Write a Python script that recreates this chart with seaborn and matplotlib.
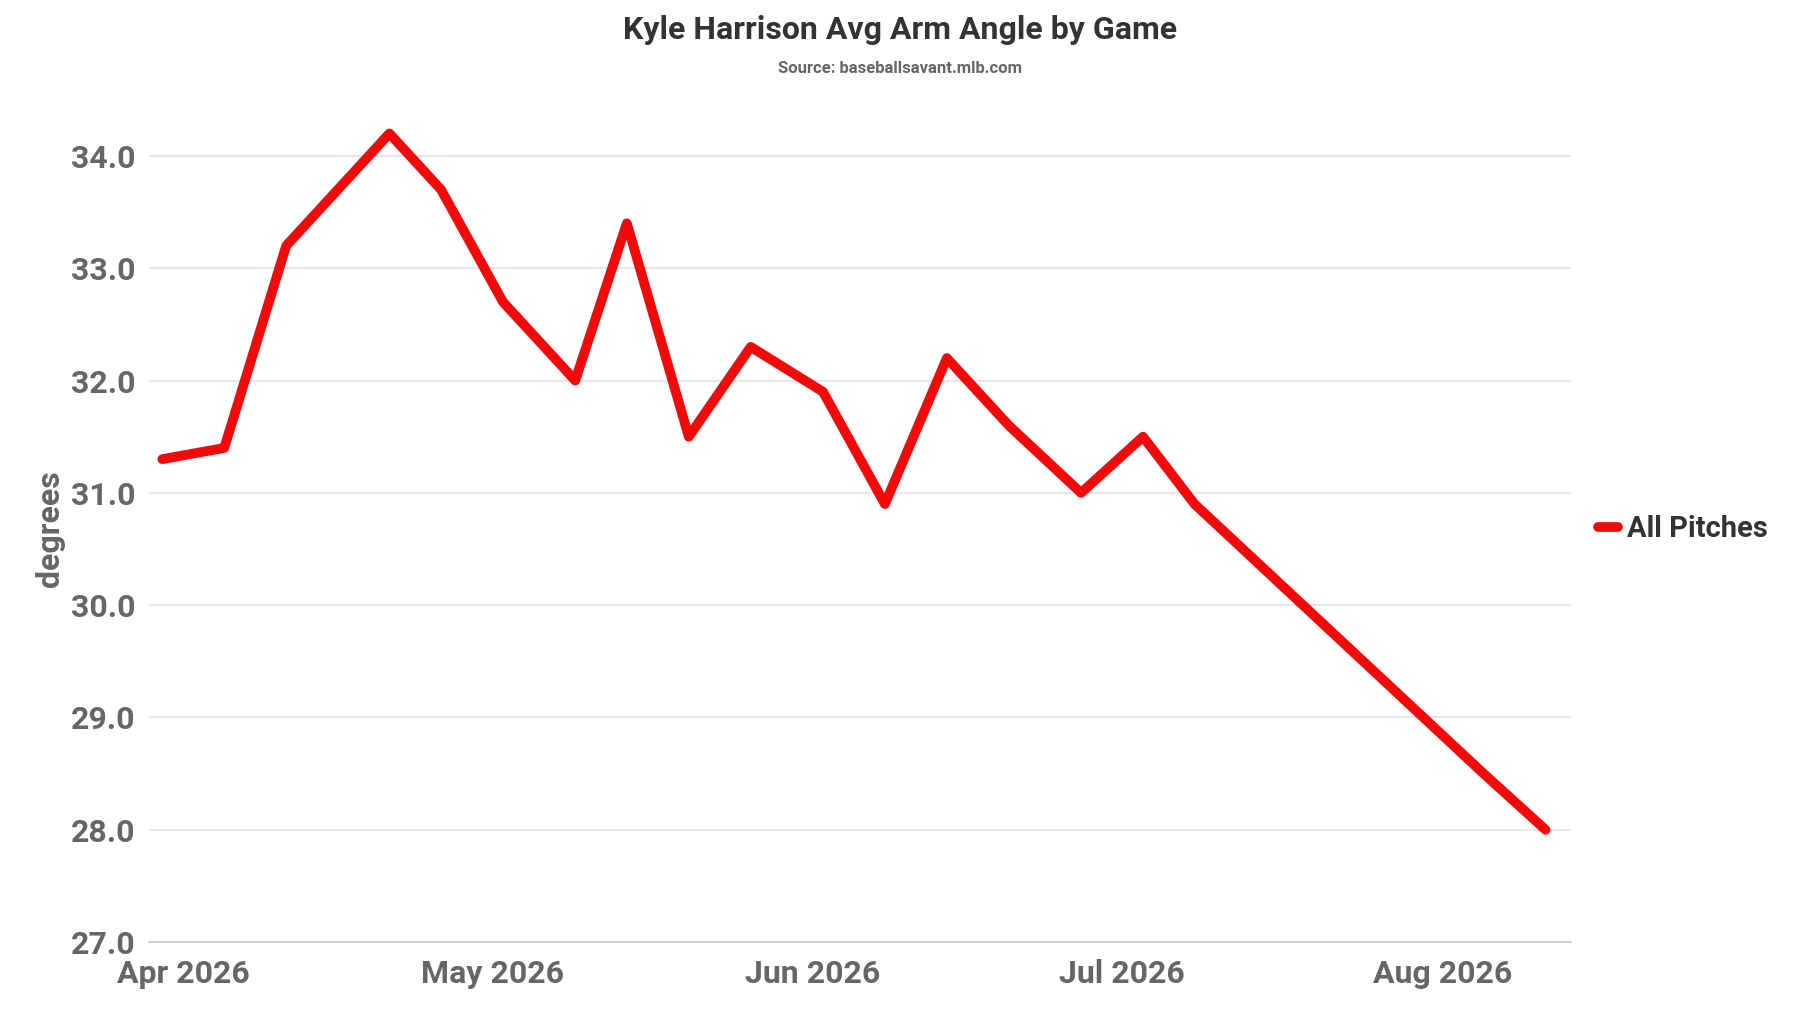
import matplotlib
matplotlib.use("Agg")
import matplotlib.pyplot as plt
import matplotlib.dates as mdates
import seaborn as sns
import pandas as pd

dates = ["2026-03-30","2026-04-05","2026-04-11","2026-04-21","2026-04-26","2026-05-02",
         "2026-05-09","2026-05-14","2026-05-20","2026-05-26","2026-06-02","2026-06-08",
         "2026-06-14","2026-06-20","2026-06-27","2026-07-03","2026-07-08","2026-08-05","2026-08-11"]
angles = [31.3,31.4,33.2,34.2,33.7,32.7,32.0,33.4,31.5,32.3,31.9,30.9,32.2,31.6,31.0,31.5,30.9,28.5,28.0]
series = ["All Pitches"]*len(dates)

df = pd.DataFrame({"date": pd.to_datetime(dates), "angle": angles, "series": series})

sns.set_theme(style="white")
plt.rcParams['font.family'] = ['Roboto', 'DejaVu Sans']

fig = plt.figure(figsize=(18, 10.13), dpi=100)
ax = fig.add_axes([0.083, 0.07, 0.79, 0.816])
sns.lineplot(data=df, x="date", y="angle", hue="series", palette=["#f00a0a"],
             linewidth=7, ax=ax, solid_capstyle="round", solid_joinstyle="round")
ax.set_xlim(pd.Timestamp("2026-03-28 18:00"), pd.Timestamp("2026-08-13 12:00"))
ax.set_ylim(27.0, 34.36)
ax.set_yticks([27,28,29,30,31,32,33,34])
ax.yaxis.set_major_formatter(matplotlib.ticker.FormatStrFormatter("%.1f"))
ax.xaxis.set_major_locator(mdates.MonthLocator())
ax.xaxis.set_major_formatter(mdates.DateFormatter("%b %Y"))
ax.grid(axis="y", color="#e3e3e3", linewidth=1.2)
for s in ["top", "right", "left"]:
    ax.spines[s].set_visible(False)
ax.spines["bottom"].set_color("#cccccc")
ax.tick_params(axis="x", length=6, color="#cccccc", labelsize=23, labelcolor="#666666", pad=6)
ax.tick_params(axis="y", length=0, labelsize=23, labelcolor="#666666", pad=10)
for t in ax.get_xticklabels() + ax.get_yticklabels():
    t.set_fontweight("bold")
ax.set_xlabel("")
ax.set_ylabel("degrees", fontsize=23, fontweight="bold", color="#666666", labelpad=4)
fig.text(0.5, 0.97, "Kyle Harrison Avg Arm Angle by Game", ha="center", va="center",
         fontsize=23, fontweight="bold", color="#333333")
fig.text(0.5, 0.932, "Source: baseballsavant.mlb.com", ha="center", va="center",
         fontsize=12, fontweight="bold", color="#666666")
leg = ax.legend(loc="center left", bbox_to_anchor=(1.0, 0.5), frameon=False,
                fontsize=21, handlelength=0.7, handletextpad=0.3)
for t in leg.get_texts():
    t.set_fontweight("bold")
    t.set_color("#333333")
fig.savefig("out.png", dpi=100)
